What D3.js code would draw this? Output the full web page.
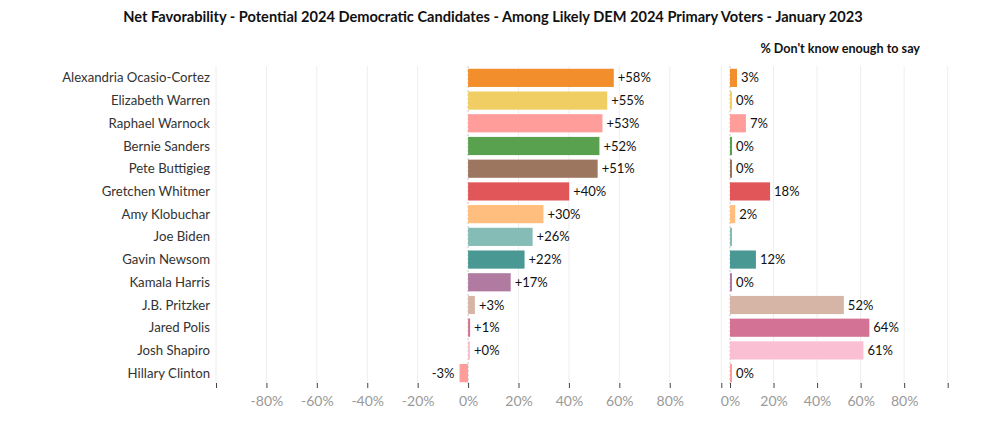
<!DOCTYPE html>
<html><head><meta charset="utf-8">
<script src="https://cdn.jsdelivr.net/npm/d3@7"></script>
<style>
body{margin:0;background:#fff;}
svg{display:block;}
</style></head>
<body><div id="chart"></div>
<script>
const candidates = ["Alexandria Ocasio-Cortez","Elizabeth Warren","Raphael Warnock","Bernie Sanders","Pete Buttigieg","Gretchen Whitmer","Amy Klobuchar","Joe Biden","Gavin Newsom","Kamala Harris","J.B. Pritzker","Jared Polis","Josh Shapiro","Hillary Clinton"];
const netFav = [57.8, 55.2, 53.3, 52.1, 51.4, 40.1, 29.9, 25.6, 22.4, 16.9, 2.7, 0.8, 0.4, -3.4];
const netLabels = ["+58%","+55%","+53%","+52%","+51%","+40%","+30%","+26%","+22%","+17%","+3%","+1%","+0%","-3%"];
const dontKnow = [3.2, 0, 7.3, 0, 0, 18.4, 2.4, null, 11.9, 0, 52.3, 64.0, 61.3, 0];
const colors = ["#F28E2B","#F1CE63","#FF9D9A","#59A14F","#9D7660","#E15759","#FFBE7D","#86BCB6","#499894","#B07AA1","#D7B5A6","#D37295","#FABFD2","#FF9D9A"];
const leftTicks = [-80,-60,-40,-20,0,20,40,60,80];
const rightTicks = [0,20,40,60,80];

const W = 1004, H = 425;
const svg = d3.select("#chart").append("svg").attr("width", W).attr("height", H);
const font = "Lato, 'Open Sans', sans-serif";

const y = d3.scaleBand().domain(candidates).range([66.5, 384.5]).paddingInner(0.2).paddingOuter(0.1);
const xL = d3.scaleLinear().domain([-100, 92]).range([216, 700]);
const xR = d3.scaleLinear().domain([-4, 100]).range([721.3, 947.7]);

// title
svg.append("text").attr("x", 493).attr("y", 22).attr("text-anchor", "middle")
  .attr("font-family", font).attr("font-weight", "bold").attr("font-size", 14.6).attr("fill", "#111")
  .text("Net Favorability - Potential 2024 Democratic Candidates - Among Likely DEM 2024 Primary Voters - January 2023");
svg.append("text").attr("x", 920).attr("y", 53).attr("text-anchor", "end")
  .attr("font-family", font).attr("font-weight", "bold").attr("font-size", 12.6).attr("fill", "#111")
  .text("% Don't know enough to say");

// gridlines
const gridL = [-100, ...leftTicks.filter(d => d !== 0)];
svg.append("g").selectAll("line").data(gridL).join("line")
  .attr("x1", d => xL(d)).attr("x2", d => xL(d)).attr("y1", 66).attr("y2", 384)
  .attr("stroke", "#eeeeee").attr("stroke-width", 1);
const gridR = [-4, ...rightTicks.filter(d => d !== 0), 100];
svg.append("g").selectAll("line").data(gridR).join("line")
  .attr("x1", d => xR(d)).attr("x2", d => xR(d)).attr("y1", 66).attr("y2", 384)
  .attr("stroke", "#eeeeee").attr("stroke-width", 1);
// zero lines
[xL(0), xR(0)].forEach(x0 => {
  svg.append("line").attr("x1", x0).attr("x2", x0).attr("y1", 66).attr("y2", 384)
    .attr("stroke", "#c8c8c8").attr("stroke-width", 1).attr("stroke-dasharray", "2,2");
});

// row labels
svg.append("g").selectAll("text").data(candidates).join("text")
  .attr("x", 210).attr("y", d => y(d) + y.bandwidth() / 2).attr("dy", "0.35em")
  .attr("text-anchor", "end").attr("font-family", font).attr("font-size", 13.2).attr("fill", "#333")
  .text(d => d);

// left bars
const rows = candidates.map((c, i) => ({c, v: netFav[i], lab: netLabels[i], dk: dontKnow[i], col: colors[i]}));
svg.append("g").selectAll("rect").data(rows).join("rect")
  .attr("x", d => Math.min(xL(0), xL(d.v)))
  .attr("y", d => y(d.c)).attr("height", y.bandwidth())
  .attr("width", d => Math.max(2, Math.abs(xL(d.v) - xL(0))))
  .attr("fill", d => d.col);
svg.append("g").selectAll("text").data(rows).join("text")
  .attr("x", d => d.v >= 0 ? Math.max(xL(d.v), xL(0) + 2) + 4 : xL(d.v) - 5)
  .attr("y", d => y(d.c) + y.bandwidth() / 2).attr("dy", "0.35em")
  .attr("text-anchor", d => d.v >= 0 ? "start" : "end")
  .attr("font-family", font).attr("font-size", 13).attr("fill", "#111")
  .text(d => d.lab);

// right bars
svg.append("g").selectAll("rect").data(rows).join("rect")
  .attr("x", xR(0))
  .attr("y", d => y(d.c)).attr("height", y.bandwidth())
  .attr("width", d => Math.max(2, xR(d.dk || 0) - xR(0)))
  .attr("fill", d => d.col);
svg.append("g").selectAll("text").data(rows.filter(d => d.dk !== null)).join("text")
  .attr("x", d => Math.max(xR(d.dk), xR(0) + 2) + 4)
  .attr("y", d => y(d.c) + y.bandwidth() / 2).attr("dy", "0.35em")
  .attr("font-family", font).attr("font-size", 13).attr("fill", "#111")
  .text(d => Math.round(d.dk) + "%");

// axes
const axL = d3.axisBottom(xL).tickValues([-100, ...leftTicks]).tickSize(5).tickPadding(8)
  .tickFormat(d => d === -100 ? "" : d + "%");
const gL = svg.append("g").attr("transform", "translate(0,383)").call(axL);
const axR = d3.axisBottom(xR).tickValues([-4, ...rightTicks, 100]).tickSize(5).tickPadding(8)
  .tickFormat(d => (d === -4 || d === 100) ? "" : d + "%");
const gR = svg.append("g").attr("transform", "translate(0,383)").call(axR);
[gL, gR].forEach(g => {
  g.select(".domain").remove();
  g.selectAll(".tick line").attr("stroke", "#444");
  g.selectAll(".tick text").attr("fill", "#999").attr("font-family", font).attr("font-size", 14);
});
</script>
</body></html>
